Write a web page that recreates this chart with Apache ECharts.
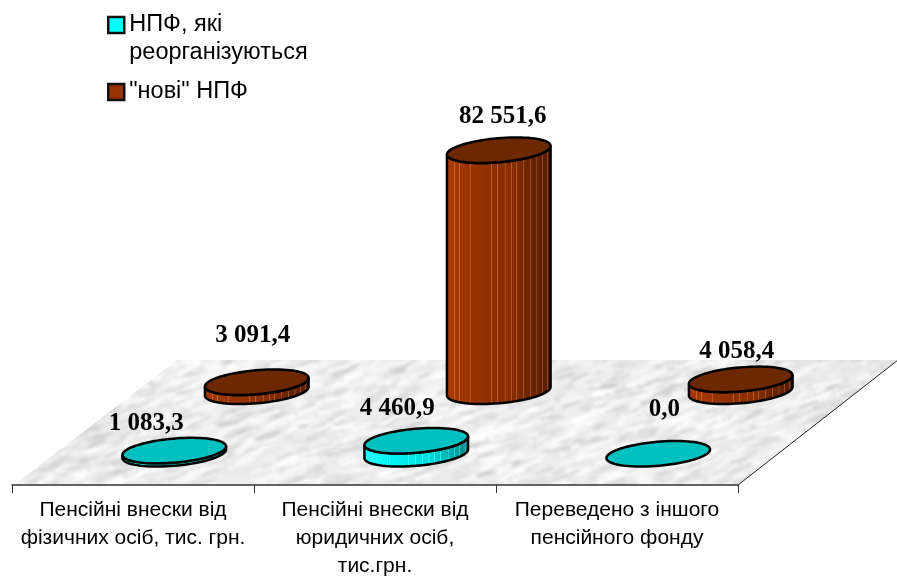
<!DOCTYPE html>
<html>
<head>
<meta charset="utf-8">
<style>html,body{margin:0;padding:0;background:#fff}#c{width:897px;height:577px}</style>
<script src="https://cdn.jsdelivr.net/npm/echarts@6/dist/echarts.min.js"></script>
</head>
<body>
<div id="c"></div>
<script>
const categories = ['Пенсійні внески від\nфізичних осіб, тис. грн.', 'Пенсійні внески від\nюридичних осіб,\nтис.грн.', 'Переведено з іншого\nпенсійного фонду'];
const seriesNames = ['НПФ, які\nреорганізуються', '"нові" НПФ'];
const reorganized = [1083.3, 4460.9, 0.0];
const newFunds = [3091.4, 82551.6, 4058.4];

// floor projection and cylinder look
const FLOOR_H = 125, FLOOR_DX_L = 165, FLOOR_DX_R = 160;
const RX = 52, RY = 12, TILT = -5 * Math.PI / 180;
const STRIPES = [.08, .13, .23, .43, .49, .56, .62, .67, .73, .80, .86, .91, .96];
const LOOK = [
  { depth: .25, cap: '#00c0c0', side: [[0, '#1cffff'], [.3, '#00f4f4'], [.62, '#00dcdc'], [.84, '#00a8a8'], [1, '#008c8c']], nudge: [[-28, -27], [-19, -32], [6, -44]] },
  { depth: .75, cap: '#6e2800', side: [[0, '#a83c08'], [.3, '#943200'], [.62, '#882e00'], [.84, '#642200'], [1, '#5a1e00']], nudge: [[-4, -47], [4, -34], [-4, -28]] }
];

function hex(c) { return [1, 3, 5].map(i => parseInt(c.substr(i, 2), 16)); }
function sideColor(ramp, p) {
  for (let i = 1; i < ramp.length; i++) {
    if (p <= ramp[i][0]) {
      const f = (p - ramp[i - 1][0]) / (ramp[i][0] - ramp[i - 1][0]);
      const A = hex(ramp[i - 1][1]), B = hex(ramp[i][1]);
      return A.map((a, k) => Math.round(a + (B[k] - a) * f));
    }
  }
  return hex(ramp[ramp.length - 1][1]);
}
function sideGradient(ramp) {
  const rgb = a => 'rgb(' + a.join(',') + ')';
  const stops = [{ offset: 0, color: rgb(sideColor(ramp, 0)) }];
  STRIPES.forEach(p => {
    const base = sideColor(ramp, p);
    const light = base.map(v => Math.min(255, v + 42));
    stops.push({ offset: p - .006, color: rgb(base) }, { offset: p - .003, color: rgb(light) }, { offset: p + .003, color: rgb(light) }, { offset: p + .006, color: rgb(base) });
  });
  stops.push({ offset: 1, color: rgb(sideColor(ramp, 1)) });
  return { type: 'linear', x: 0, y: 0, x2: 1, y2: 0, colorStops: stops };
}
function arc(cx, cy, from, to, n) {
  const out = [];
  for (let i = 0; i <= n; i++) {
    const u = from + (to - from) * i / n;
    out.push([
      cx + RX * Math.cos(u) * Math.cos(TILT) - RY * Math.sin(u) * Math.sin(TILT),
      cy + RX * Math.cos(u) * Math.sin(TILT) + RY * Math.sin(u) * Math.cos(TILT)
    ]);
  }
  return out;
}
function fmt(v) {
  const parts = v.toFixed(1).split('.');
  return parts[0].replace(/\B(?=(\d{3})+$)/g, ' ') + ',' + parts[1];
}
function floorTexture() {
  const W = 897, H = 577;
  const raw = document.createElement('canvas');
  raw.width = W; raw.height = H;
  const g = raw.getContext('2d');
  g.fillStyle = '#ededed';
  g.fillRect(0, 0, W, H);
  let seed = 12345;
  const r = () => (seed = (seed * 1664525 + 1013904223) >>> 0) / 4294967296;
  g.lineCap = 'round';
  for (let i = 0; i < 3000; i++) {
    const x = r() * W, y = 340 + r() * 160, len = 6 + r() * 22, ang = -0.5 + r() * 0.35;
    const dark = r() < .5;
    g.strokeStyle = dark ? 'rgba(195,195,195,' + (.15 + r() * .3) + ')' : 'rgba(255,255,255,' + (.35 + r() * .5) + ')';
    g.lineWidth = 1.5 + r() * 3;
    g.beginPath();
    g.moveTo(x, y);
    g.lineTo(x + Math.cos(ang) * len, y + Math.sin(ang) * len);
    g.stroke();
  }
  const cv = document.createElement('canvas');
  cv.width = W; cv.height = H;
  const o = cv.getContext('2d');
  o.filter = 'blur(1.5px)';
  o.drawImage(raw, 0, 0);
  return cv;
}
const texture = floorTexture();

function renderFloor(params, api) {
  const a = api.coord([0, 0]);
  const band = api.size([1, 0])[0];
  const x0 = a[0] - band / 2, x1 = x0 + band * categories.length, y = a[1];
  return {
    type: 'group', children: [
      { type: 'polygon', shape: { points: [[x0 + 2, y], [x1, y], [x1 + FLOOR_DX_R, y - FLOOR_H], [x0 + FLOOR_DX_L, y - FLOOR_H]] }, style: { fill: { image: texture, repeat: 'no-repeat' } } },
      { type: 'line', shape: { x1: x1, y1: y, x2: x1 + FLOOR_DX_R, y2: y - FLOOR_H }, style: { stroke: '#222', lineWidth: 1 } }
    ]
  };
}
function cylinderSeries(name, values, look, z) {
  const gradient = sideGradient(look.side);
  return {
    type: 'custom', name: name, z: z, silent: true,
    encode: { x: 0, y: 1 },
    data: values.map((v, i) => [i, v]),
    renderItem(params, api) {
      const i = api.value(0), v = api.value(1);
      const base = api.coord([i, 0]), top = api.coord([i, v]);
      const cx = base[0] + FLOOR_DX_L * look.depth, by = base[1] - FLOOR_H * look.depth, ty = top[1] - FLOOR_H * look.depth;
      const u0 = Math.atan2(-RY * Math.sin(TILT), RX * Math.cos(TILT));
      const kids = [];
      if (v > 0) {
        kids.push({ type: 'polygon', shape: { points: arc(cx, by, u0, u0 + Math.PI, 40).concat(arc(cx, ty, u0 + Math.PI, u0, 40)) }, style: { fill: gradient, stroke: '#000', lineWidth: 2.5 } });
      }
      kids.push({ type: 'polygon', shape: { points: arc(cx, ty, 0, Math.PI * 2, 80) }, style: { fill: look.cap, stroke: '#000', lineWidth: 2.5 } });
      const n = look.nudge[i];
      kids.push({ type: 'text', style: { text: fmt(v), x: cx + n[0], y: ty + n[1], align: 'center', verticalAlign: 'middle', fontFamily: '"Liberation Serif"', fontWeight: 'bold', fontSize: 25, fill: '#000' } });
      return { type: 'group', children: kids };
    }
  };
}

const chart = echarts.init(document.getElementById('c'), null, { renderer: 'canvas' });
chart.setOption({
  animation: false,
  backgroundColor: '#fff',
  grid: { left: 12, right: 159, top: 193, bottom: 92, outerBoundsMode: 'none' },
  legend: {
    orient: 'vertical', left: 102, top: -22, itemWidth: 16, itemHeight: 16, itemGap: 11,
    formatter: name => name.indexOf('\n') >= 0 ? '\n' + name : name,
    textStyle: { fontFamily: '"Liberation Sans"', fontSize: 23.5, lineHeight: 28, color: '#000' },
    data: [
      { name: seriesNames[0], icon: 'rect', itemStyle: { color: '#00ffff', borderColor: '#111', borderWidth: 2.5 } },
      { name: seriesNames[1], icon: 'rect', itemStyle: { color: '#993300', borderColor: '#111', borderWidth: 2.5 } }
    ]
  },
  xAxis: {
    type: 'category', data: categories, z: 5,
    axisLine: { lineStyle: { color: '#333', width: 1.5 } },
    axisTick: { show: true, alignWithLabel: false, length: 8, lineStyle: { color: '#333', width: 1 } },
    axisLabel: { interval: 0, margin: 11, fontFamily: '"Liberation Sans"', fontSize: 21, lineHeight: 28, color: '#000' }
  },
  yAxis: { type: 'value', min: 0, max: 100000, show: false },
  series: [
    { type: 'custom', z: 1, silent: true, encode: { x: 0, y: 1 }, data: [[0, 0]], renderItem: renderFloor },
    cylinderSeries(seriesNames[1], newFunds, LOOK[1], 2),
    cylinderSeries(seriesNames[0], reorganized, LOOK[0], 3)
  ]
});
</script>
</body>
</html>
